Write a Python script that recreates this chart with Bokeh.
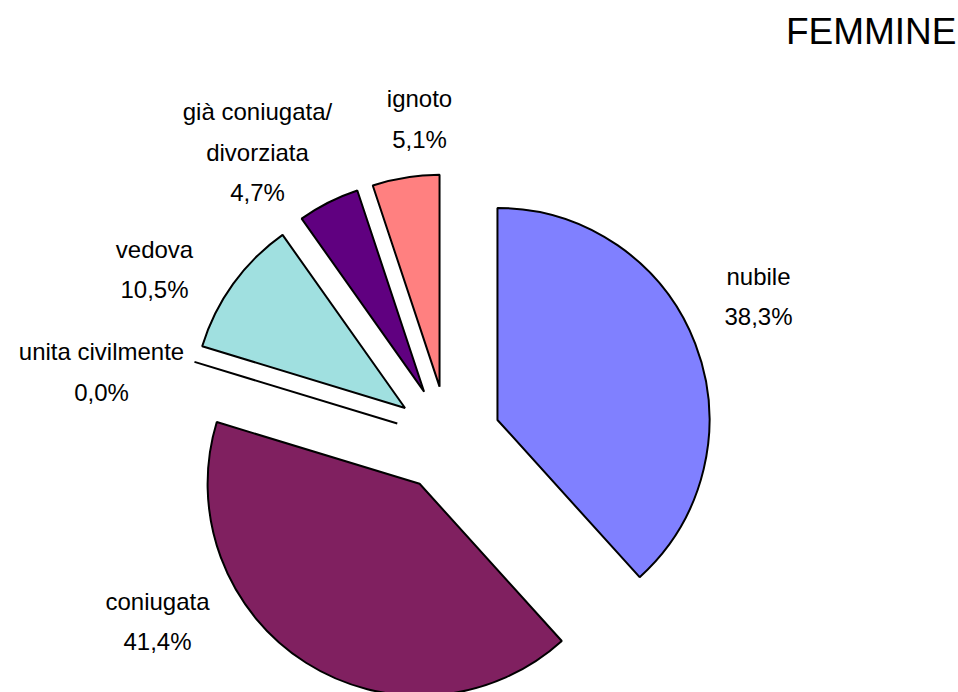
import math
from bokeh.plotting import figure
from bokeh.models import Range1d, ColumnDataSource
from bokeh.core.properties import value
from bokeh.embed import file_html
from bokeh.resources import INLINE

# ---- data ----
categories = ["nubile", "coniugata", "unita civilmente", "vedova", "già coniugata/\ndivorziata", "ignoto"]
percentages = [38.3, 41.4, 0.0, 10.5, 4.7, 5.1]
colors = ["#8080FF", "#802060", "#A0E0E0", "#A0E0E0", "#600080", "#FF8080"]
title_text = "FEMMINE"

# ---- layout (page px; data y measured upward from the bottom of a 692px page) ----
W, H = 958, 692
cx, cy = 447.5, 253.5      # pie centre
R = 212                     # radius
EXPLODE = 53                # explosion distance
label_xy = [(758, 396), (157, 71), (101, 320.5), (154, 423), (257, 540.5), (419, 573.5)]
LABEL_FONT = "Liberation Sans"

p = figure(width=W, height=H, output_backend="svg", toolbar_location=None,
           x_range=Range1d(0, W), y_range=Range1d(0, H),
           x_axis_type=None, y_axis_type=None, min_border=0,
           background_fill_color="white", border_fill_color="white")
p.grid.visible = False
p.outline_line_color = None

total = sum(percentages)
cum = 0.0
wx, wy, ws, we, wc = [], [], [], [], []
zx, zy, zx1, zy1 = [], [], [], []
for name, v, col in zip(categories, percentages, colors):
    t1 = cum / total * 2 * math.pi
    cum += v
    t2 = cum / total * 2 * math.pi
    mid = (t1 + t2) / 2
    ox = cx + EXPLODE * math.sin(mid)
    oy = cy + EXPLODE * math.cos(mid)
    if v > 0:
        wx.append(ox); wy.append(oy)
        ws.append(math.pi / 2 - t2); we.append(math.pi / 2 - t1)
        wc.append(col)
    else:
        ang = math.pi / 2 - t1
        zx.append(ox); zy.append(oy)
        zx1.append(ox + R * math.cos(ang)); zy1.append(oy + R * math.sin(ang))

src = ColumnDataSource(dict(x=wx, y=wy, s=ws, e=we, c=wc))
p.wedge(x="x", y="y", radius=R, start_angle="s", end_angle="e", fill_color="c",
        line_color="black", line_width=2, source=src)
if zx:
    p.segment(x0=zx, y0=zy, x1=zx1, y1=zy1, line_color="black", line_width=2)

labels = [f"{n}\n{v:.1f}".replace(".", ",") + "%" for n, v in zip(categories, percentages)]
p.text(x=[q[0] for q in label_xy], y=[q[1] for q in label_xy], text=labels,
       text_align="center", text_baseline="middle", text_font=value(LABEL_FONT),
       text_font_size="24px", text_line_height=1.5, text_color="black")

p.text(x=[956], y=[661], text=[title_text], text_align="right", text_baseline="alphabetic",
       text_font=value("Liberation Sans"), text_font_size="37px", text_color="black")

open("out.html", "w").write(file_html(p, INLINE))
